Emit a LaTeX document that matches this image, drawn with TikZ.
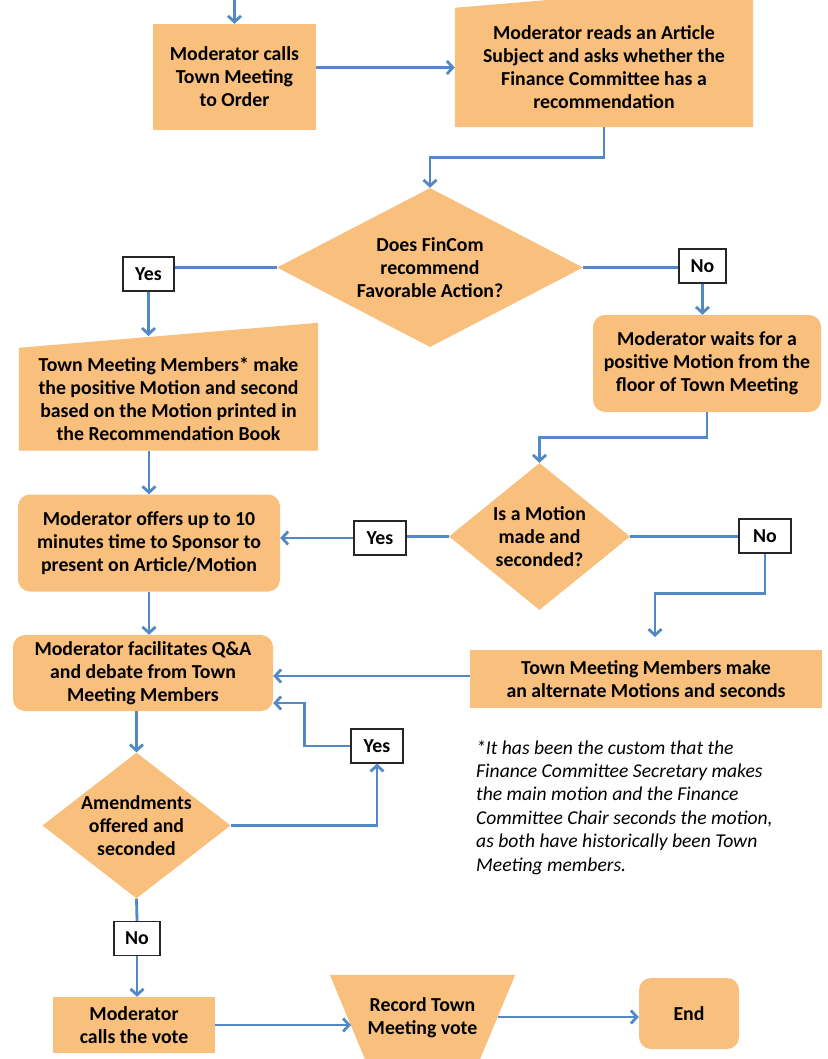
\documentclass[tikz,border=0pt]{standalone}
\usepackage{fontspec}
\setmainfont{Carlito}
\usetikzlibrary{shapes.geometric,arrows.meta,backgrounds}
\definecolor{boxorange}{RGB}{248,191,125}
\definecolor{flowblue}{RGB}{82,137,196}

\begin{document}
\begin{tikzpicture}[x=1pt, y=-1pt,
    txt/.style={font=\fontsize{19.8}{23}\selectfont\bfseries, align=center, inner sep=0pt},
    box/.style={txt, fill=boxorange},
    roundbox/.style={box, rounded corners=12pt},
    decision/.style={txt, diamond, fill=boxorange},
    answer/.style={txt, draw=black!85, line width=1.1pt, fill=white, minimum height=34pt},
    link/.style={flowblue, line width=2.8pt},
    arr/.style={link, -{Straight Barb[length=6pt,width=13pt]}}]
    \useasboundingbox (0,0) rectangle (827,1059);

    \coordinate (top) at (234.5,0);
    \node[box, minimum width=163pt, minimum height=106pt] (call) at (234.5,77) {Moderator calls\\Town Meeting\\to Order};
    \node[txt, minimum width=298pt, minimum height=119pt] (read) at (604,67.5) {Moderator reads an Article\\Subject and asks whether the\\Finance Committee has a\\recommendation};
    \node[decision, minimum width=306pt, minimum height=159pt, aspect=1.92] (fav) at (430,267.5) {Does FinCom\\recommend\\Favorable Action?};
    \node[answer, minimum width=51pt] (yes1) at (148.5,274) {Yes};
    \node[answer, minimum width=47pt] (no1) at (702.5,266) {No};
    \node[txt, minimum width=299pt, minimum height=102.5pt] (make) at (168.5,399.25) {Town Meeting Members* make\\the positive Motion and second\\based on the Motion printed in\\the Recommendation Book};
    \node[roundbox, minimum width=228pt, minimum height=97pt] (wait) at (707,363.5) {Moderator waits for a\\positive Motion from the\\floor of Town Meeting};
    \node[decision, minimum width=181pt, minimum height=147pt, aspect=1.23] (motion) at (539.5,536.5) {Is a Motion\\made and\\seconded?};
    \node[answer, minimum width=52pt] (yes2) at (380,538) {Yes};
    \node[answer, minimum width=52pt] (no2) at (765,536) {No};
    \node[roundbox, minimum width=262pt, minimum height=97pt] (offer) at (149,543) {Moderator offers up to 10\\minutes time to Sponsor to\\present on Article/Motion};
    \node[roundbox, minimum width=260pt, minimum height=76pt] (qa) at (143,673) {Moderator facilitates Q\&A\\and debate from Town\\Meeting Members};
    \node[box, minimum width=352pt, minimum height=58pt] (alt) at (646,679) {Town Meeting Members make\\an alternate Motions and seconds};
    \node[decision, minimum width=187pt, minimum height=145pt, aspect=1.29] (amend) at (136.5,825.5) {Amendments\\offered and\\seconded};
    \node[answer, minimum width=52pt] (yes3) at (377,746) {Yes};
    \node[answer, minimum width=46pt] (no3) at (137,938.5) {No};
    \node[box, minimum width=162pt, minimum height=56pt] (vote) at (134,1025) {Moderator\\calls the vote};
    \node[txt, minimum width=185pt, minimum height=86pt] (rec) at (422.5,1018) {Record Town\\Meeting vote};
    \node[roundbox, minimum width=100pt, minimum height=71pt] (end) at (689,1013.5) {End};
    \node[anchor=north west, inner sep=0pt, align=left, font=\fontsize{19.6}{23.4}\selectfont\itshape] (note) at (476,740) {*It has been the custom that the\\Finance Committee Secretary makes\\the main motion and the Finance\\Committee Chair seconds the motion,\\as both have historically been Town\\Meeting members.};

    \begin{scope}[on background layer]
        \fill[boxorange] (read.south west) -- (read.south east) -- ([yshift=25pt]read.north east) -- (read.north west) -- cycle;
        \fill[boxorange] (make.south west) -- (make.south east) -- ([yshift=25pt]make.north east) -- (make.north west) -- cycle;
        \fill[boxorange] (rec.north west) -- (rec.north east) -- ([xshift=-36pt]rec.south east) -- ([xshift=36pt]rec.south west) -- cycle;
    \end{scope}

    \coordinate (makein) at (148.5,336);
    \coordinate (altin) at (655,637);
    \coordinate (recin) at (351,1025);
    \coordinate (recout) at (498,1017);

    \draw[arr] (top) -- (call.north);
    \draw[arr] (call.east |- read.west) -- (read.west);
    \draw[arr] (read.south) -- ++(0,30) -| (fav.north);
    \draw[link] (fav.west) -- (fav.west -| yes1.east);
    \draw[arr] (yes1.south) -- (makein);
    \draw[link] (fav.east) -- (fav.east -| no1.west);
    \draw[arr] (no1.south) -- (no1.south |- wait.north);
    \draw[arr] (wait.south) -- ++(0,25) -| (motion.north);
    \draw[arr] (offer.north |- make.south) -- (offer.north);
    \draw[link] (motion.west) -- (motion.west -| yes2.east);
    \draw[arr] (yes2.west) -- (yes2.west -| offer.east);
    \draw[link] (motion.east) -- (motion.east -| no2.west);
    \draw[arr] (no2.south) -- ++(0,40) -| (altin);
    \draw[arr] (offer.south) -- (offer.south |- qa.north);
    \draw[arr] (alt.west |- 0,676) -- (qa.east |- 0,676);
    \draw[arr] (amend.north |- qa.south) -- (amend.north);
    \draw[arr] (amend.east) -| (yes3.south);
    \draw[arr] (yes3.west) -- ++(-46,0) |- ([yshift=-30pt]qa.east);
    \draw[link] (amend.south) -- (no3.north);
    \draw[arr] (no3.south) -- (no3.south |- vote.north);
    \draw[arr] (vote.east) -- (recin);
    \draw[arr] (recout) -- (recout -| end.west);
\end{tikzpicture}
\end{document}
